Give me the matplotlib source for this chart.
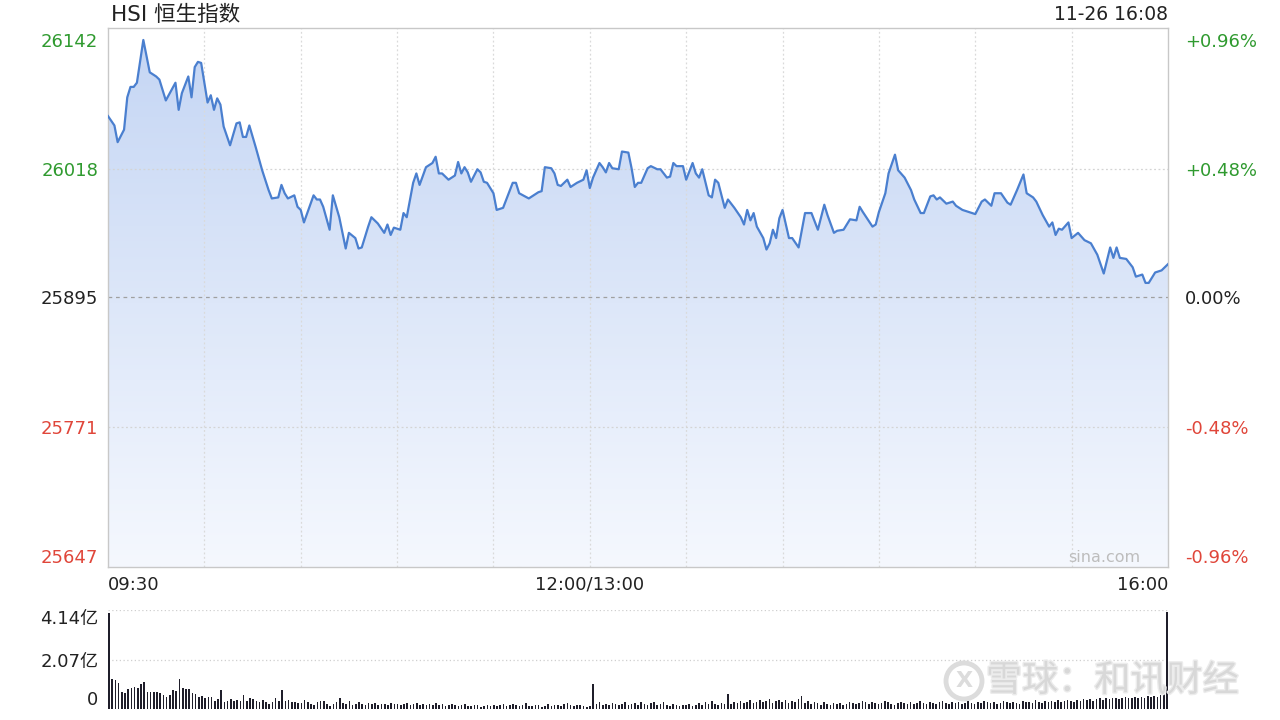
import numpy as np
import matplotlib
matplotlib.use("Agg")
import matplotlib.pyplot as plt
import matplotlib.patheffects as pe
from matplotlib.patches import Polygon, Circle
from matplotlib.transforms import IdentityTransform
from matplotlib.colors import LinearSegmentedColormap

plt.rcParams['font.family'] = ['DejaVu Sans', 'Noto Sans CJK SC']

# 分时数据：距 09:30 的交易分钟数（午休不计）与指数点位
minutes = [0, 2, 3, 5, 6, 7, 8, 9, 11, 13, 15, 16, 18, 21, 22, 23, 24, 25, 26, 27,
           28, 29, 31, 32, 33, 34, 35, 36, 38, 40, 41, 42, 43, 44, 46, 48, 50, 51, 53, 54,
           55, 56, 58, 59, 60, 61, 64, 65, 66, 67, 69, 70, 72, 74, 75, 77, 78, 79, 81, 82,
           84, 86, 87, 88, 89, 91,
           92, 93, 95, 96, 97, 99, 101, 102, 103, 104, 106, 108, 109, 110, 111, 112, 113, 115, 116, 117,
           118, 120, 121, 123, 124, 126, 127, 128, 131, 134, 135, 136, 138, 139, 140, 141, 143, 144, 146, 148,
           149, 150, 151, 153, 154, 155, 156, 157, 159, 160, 162, 163, 164, 165, 166, 168,
           169, 171, 172, 174, 175, 176, 177, 179, 180, 182, 183, 184, 185, 187, 188, 189, 190, 192, 193, 195,
           197, 198, 199, 200, 201, 202, 204, 205, 206, 207, 208, 209, 210, 212, 213, 215, 217, 219, 221, 223,
           224, 226, 227, 229, 231, 233, 234, 235, 238, 239, 240, 242, 243, 245, 246, 248, 250,
           251, 253, 254, 256, 257, 258, 259, 261, 263, 264, 266, 267, 270, 272, 273, 275, 276, 278, 280, 281,
           283, 285, 286, 288, 289, 291, 293, 294, 295, 296, 297, 299, 300, 302, 304, 306, 308, 310, 312, 313,
           314, 315, 317, 319, 320, 322, 323, 324, 326, 328, 330]
prices = [26069, 26060, 26044, 26056, 26087, 26097, 26097, 26101, 26142, 26111,
          26107, 26104, 26084, 26101, 26075, 26091, 26099, 26107, 26087, 26116,
          26121, 26120, 26082, 26089, 26075, 26086, 26080, 26059, 26041, 26062,
          26063, 26049, 26049, 26060, 26039, 26017, 25998, 25990, 25991, 26003,
          25995, 25990, 25993, 25982, 25979, 25967, 25993, 25989, 25989, 25982,
          25960, 25993, 25972, 25942, 25957, 25952, 25942, 25943, 25963, 25972,
          25966, 25957, 25965, 25955, 25962, 25960,
          25976, 25972, 26005, 26014, 26003, 26020, 26024, 26030, 26014, 26014,
          26008, 26012, 26025, 26014, 26020, 26015, 26006, 26018, 26015, 26006,
          26005, 25995, 25979, 25981, 25989, 26005, 26005, 25995, 25990, 25996,
          25997, 26020, 26019, 26014, 26003, 26002, 26008, 26001, 26005, 26008,
          26017, 26000, 26010, 26024, 26020, 26015, 26024, 26019, 26018, 26035,
          26034, 26019, 26001, 26005, 26005, 26019,
          26021, 26018, 26018, 26010, 26011, 26024, 26021, 26021, 26008, 26024,
          26014, 26010, 26018, 25993, 25991, 26008, 26005, 25981, 25989, 25981,
          25972, 25965, 25979, 25969, 25976, 25963, 25952, 25941, 25947, 25960,
          25952, 25971, 25979, 25952, 25952, 25943, 25976, 25976, 25960, 25984,
          25974, 25957, 25959, 25960, 25970, 25969, 25982, 25977, 25963, 25965,
          25977, 25995, 26014, 26032, 26017, 26010, 25998,
          25989, 25976, 25976, 25992, 25993, 25989, 25991, 25985, 25987, 25983,
          25979, 25978, 25975, 25987, 25989, 25983, 25995, 25995, 25986, 25984,
          25998, 26013, 25995, 25991, 25987, 25974, 25963, 25967, 25955, 25961,
          25960, 25967, 25952, 25957, 25950, 25947, 25936, 25918, 25943, 25933,
          25943, 25933, 25932, 25924, 25915, 25917, 25909, 25909, 25919, 25921,
          25927]

# 每分钟成交量（亿）
volume = [4.02, 1.27, 1.20, 1.08, 0.70, 0.66, 0.84, 0.89, 0.94, 0.89,
          1.06, 1.13, 0.70, 0.70, 0.70, 0.70, 0.66, 0.59, 0.49, 0.59,
          0.80, 0.77, 1.27, 0.89, 0.84, 0.84, 0.66, 0.61, 0.49, 0.56,
          0.46, 0.49, 0.49, 0.35, 0.42, 0.80, 0.31, 0.32, 0.42, 0.35,
          0.39, 0.35, 0.59, 0.35, 0.45, 0.42, 0.35, 0.31, 0.38, 0.28,
          0.21, 0.28, 0.46, 0.35, 0.80, 0.35, 0.38, 0.31, 0.28, 0.25,
          0.25, 0.38, 0.28, 0.21, 0.18, 0.28, 0.35, 0.35, 0.21, 0.14,
          0.21, 0.30, 0.45, 0.25, 0.20, 0.32, 0.18, 0.22, 0.28, 0.20,
          0.18, 0.24, 0.20, 0.26, 0.18, 0.22, 0.20, 0.16, 0.25, 0.20,
          0.22, 0.18, 0.20, 0.24, 0.16, 0.20, 0.26, 0.18, 0.22, 0.15,
          0.20, 0.18, 0.24, 0.16, 0.20, 0.14, 0.18, 0.22, 0.15, 0.12,
          0.16, 0.20, 0.14, 0.12, 0.18, 0.15, 0.10, 0.14, 0.18, 0.12,
          0.15, 0.12, 0.16, 0.20, 0.14, 0.18, 0.22, 0.15, 0.12, 0.16,
          0.24, 0.14, 0.12, 0.18, 0.15, 0.10, 0.14, 0.20, 0.12, 0.16,
          0.18, 0.14, 0.22, 0.25, 0.16, 0.12, 0.15, 0.18, 0.12, 0.10,
          0.14, 1.06, 0.20, 0.28, 0.16, 0.22, 0.18, 0.26, 0.20, 0.15,
          0.22, 0.28, 0.18, 0.20, 0.26, 0.15, 0.30, 0.22, 0.18, 0.24,
          0.28, 0.16, 0.22, 0.30, 0.18, 0.14, 0.20, 0.16, 0.12, 0.18,
          0.15, 0.20, 0.14, 0.18, 0.24, 0.16, 0.28, 0.20, 0.32, 0.22,
          0.18, 0.26, 0.20, 0.62, 0.22, 0.30, 0.24, 0.34, 0.26, 0.30,
          0.36, 0.24, 0.30, 0.38, 0.28, 0.34, 0.40, 0.26, 0.32, 0.36,
          0.28, 0.38, 0.24, 0.34, 0.30, 0.40, 0.55, 0.26, 0.32, 0.22,
          0.30, 0.24, 0.18, 0.28, 0.22, 0.16, 0.26, 0.20, 0.24, 0.18,
          0.22, 0.28, 0.24, 0.20, 0.26, 0.35, 0.28, 0.22, 0.30, 0.24,
          0.20, 0.26, 0.32, 0.28, 0.22, 0.18, 0.24, 0.30, 0.26, 0.22,
          0.28, 0.20, 0.24, 0.32, 0.26, 0.22, 0.30, 0.24, 0.20, 0.28,
          0.34, 0.26, 0.22, 0.30, 0.24, 0.28, 0.20, 0.26, 0.32, 0.24,
          0.22, 0.30, 0.26, 0.34, 0.28, 0.24, 0.30, 0.22, 0.26, 0.32,
          0.28, 0.24, 0.30, 0.26, 0.22, 0.34, 0.28, 0.30, 0.24, 0.36,
          0.30, 0.26, 0.32, 0.28, 0.34, 0.30, 0.36, 0.28, 0.32, 0.38,
          0.34, 0.30, 0.38, 0.32, 0.40, 0.36, 0.42, 0.34, 0.40, 0.44,
          0.38, 0.46, 0.40, 0.44, 0.48, 0.42, 0.46, 0.50, 0.44, 0.48,
          0.52, 0.46, 0.50, 0.48, 0.54, 0.50, 0.56, 0.52, 0.58, 0.62,
          4.05]

price_ticks = [26142, 26018, 25895, 25771, 25647]
pct_labels = ['+0.96%', '+0.48%', '0.00%', '-0.48%', '-0.96%']
time_ticks = [0, 150, 330]
time_labels = ['09:30', '12:00/13:00', '16:00']
vol_ticks = [0, 2.07, 4.14]
vol_labels = ['0', '2.07亿', '4.14亿']

GREEN = '#2f9a2f'
RED = '#e0463a'
tick_colors = [GREEN, GREEN, '#222222', RED, RED]

fig = plt.figure(figsize=(12.8, 7.2), dpi=100, facecolor='white')

# ---- 价格面板 ----
ax = fig.add_axes([108 / 1280, 153 / 720, 1060 / 1280, 539 / 720])
ymin, ymax = 25636.5, 26153.5

verts = [(minutes[0], ymin)] + list(zip(minutes, prices)) + [(minutes[-1], ymin)]
poly = Polygon(verts, closed=True, facecolor='none', edgecolor='none')
ax.add_patch(poly)
cmap = LinearSegmentedColormap.from_list('fill', ['#f5f8fe', '#c5d6f4'])
grad = np.linspace(1, 0, 256).reshape(-1, 1)
im = ax.imshow(grad, extent=[0, 330, ymin, max(prices)], aspect='auto',
               cmap=cmap, origin='upper', zorder=1)
im.set_clip_path(poly)

ax.plot(minutes, prices, color='#4a7fcf', lw=1.6, zorder=3)

for gx in range(30, 330, 30):
    ax.axvline(gx, color='#dadada', lw=0.9, ls=(0, (1.5, 2)), zorder=2)
for gy in (price_ticks[1], price_ticks[3]):
    ax.axhline(gy, color='#d4d4d4', lw=0.9, ls=(0, (1.5, 2)), zorder=2)
ax.axhline(price_ticks[2], color='#a0a0a0', lw=0.9, ls=(0, (3, 3)), zorder=2)

ax.set_xlim(0, 330)
ax.set_ylim(ymin, ymax)
ax.set_xticks([])
ax.set_yticks(price_ticks)
ax.set_yticklabels([str(v) for v in price_ticks], fontsize=13)
for lbl, c in zip(ax.get_yticklabels(), tick_colors):
    lbl.set_color(c)
ax.tick_params(axis='y', length=0, pad=7)
for s in ax.spines.values():
    s.set_color('#c8c8c8')
    s.set_linewidth(1)

axr = ax.twinx()
axr.set_ylim(ymin, ymax)
axr.set_yticks(price_ticks)
axr.set_yticklabels(pct_labels, fontsize=13)
for lbl, c in zip(axr.get_yticklabels(), tick_colors):
    lbl.set_color(c)
axr.tick_params(axis='y', length=0, pad=12)
for s in axr.spines.values():
    s.set_visible(False)

xt = ax.get_xaxis_transform()
for t, lab, ha in zip(time_ticks, time_labels, ['left', 'center', 'right']):
    ax.text(t, -0.033, lab, transform=xt, ha=ha, va='center', fontsize=13, color='#222222')

ax.text(0.003, 1.025, 'HSI 恒生指数', transform=ax.transAxes, ha='left', va='center',
        fontsize=15.5, color='#222222')
ax.text(1.0, 1.025, '11-26 16:08', transform=ax.transAxes, ha='right', va='center',
        fontsize=13.5, color='#222222')
ax.text(0.94, 0.017, 'sina.com', transform=ax.transAxes, ha='center', va='center',
        fontsize=11.5, color='#bdbdbd')

# ---- 成交量面板 ----
axv = fig.add_axes([108 / 1280, 11 / 720, 1060 / 1280, 99 / 720])
axv.bar(np.arange(len(volume)), volume, width=0.5, color='#1f1e2a', zorder=3)
for gy in vol_ticks[1:]:
    axv.axhline(gy, color='#cfcfcf', lw=0.9, ls=(0, (1, 2)), zorder=1)
axv.set_xlim(-0.3, 330.3)
axv.set_ylim(0, 4.14)
axv.set_xticks([])
axv.set_yticks(vol_ticks)
axv.set_yticklabels(vol_labels, fontsize=13, color='#222222')
vl = axv.get_yticklabels()
vl[0].set_va('bottom')
vl[2].set_va('top')
axv.tick_params(axis='y', length=0, pad=7)
for s in axv.spines.values():
    s.set_visible(False)
axv.patch.set_alpha(0)

# ---- 水印 ----
fig.add_artist(Circle((964, 720 - 681), 18, transform=IdentityTransform(),
                      facecolor='none', edgecolor='#dcdcdc', lw=3.5, zorder=5))
fig.text(964 / 1280, 1 - 681 / 720, 'X', ha='center', va='center', fontsize=16,
         color='#dcdcdc', fontweight='bold', zorder=5)
fig.text(986 / 1280, 1 - 681 / 720, '雪球：和讯财经', ha='left', va='center',
         fontsize=26, color='#d8d8d8', zorder=5,
         path_effects=[pe.withStroke(linewidth=2, foreground='#ececec')])

fig.savefig('out.png', dpi=100, facecolor='white')
